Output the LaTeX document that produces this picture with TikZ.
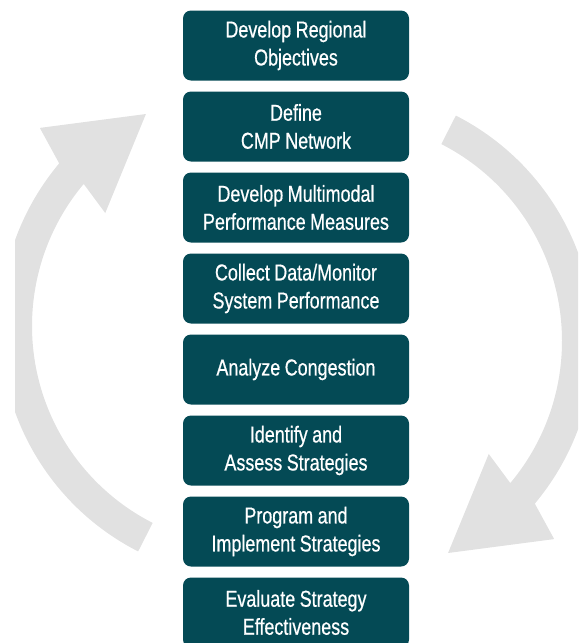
\documentclass[tikz,border=0pt]{standalone}
\usepackage{fontspec}
\setmainfont{Liberation Sans}[FakeStretch=0.78, FakeBold=0.6]
\usetikzlibrary{calc}
\definecolor{boxteal}{RGB}{4,74,85}
\definecolor{cyclegray}{RGB}{225,225,225}
\tikzset{stage/.style={rectangle, rounded corners=8pt, fill=boxteal, text=white, minimum width=226pt, minimum height=70pt, text width=220pt, align=center, inner sep=0pt, font=\fontsize{23}{28}\selectfont}}

\begin{document}
\begin{tikzpicture}[x=1pt,y=-1pt]
  \useasboundingbox (0,0) rectangle (580,643);
  % cycle arrows
  \begin{scope}
    \clip (15,0) rectangle (578,643);
    \foreach \cx/\cy/\a in {
      253/326/0,
      341/341/180%
    }{
      \fill[cyclegray] ($(\cx,\cy)+(117+\a:253)$) arc[start angle=117+\a, end angle=220+\a, radius=253]
        -- ($(\cx,\cy)+(222.9+\a:291)$) -- ($(\cx,\cy)+(243.2+\a:237.5)$) -- ($(\cx,\cy)+(217.4+\a:186)$)
        -- ($(\cx,\cy)+(220+\a:221)$) arc[start angle=220+\a, end angle=117+\a, radius=221] -- cycle;
    }
  \end{scope}
  % process steps
  \foreach \i/\txt in {
    0/{Develop Regional\\Objectives},
    1/{Define\\CMP Network},
    2/{Develop Multimodal\\Performance Measures},
    3/{Collect Data/Monitor\\System Performance},
    4/{Analyze Congestion},
    5/{Identify and\\Assess Strategies},
    6/{Program and\\Implement Strategies},
    7/{Evaluate Strategy\\Effectiveness}%
  } {
    \node[stage] (stage\i) at (296,45.5+81*\i) {\spaceskip=4.5pt\relax\txt};
  }
\end{tikzpicture}
\end{document}
